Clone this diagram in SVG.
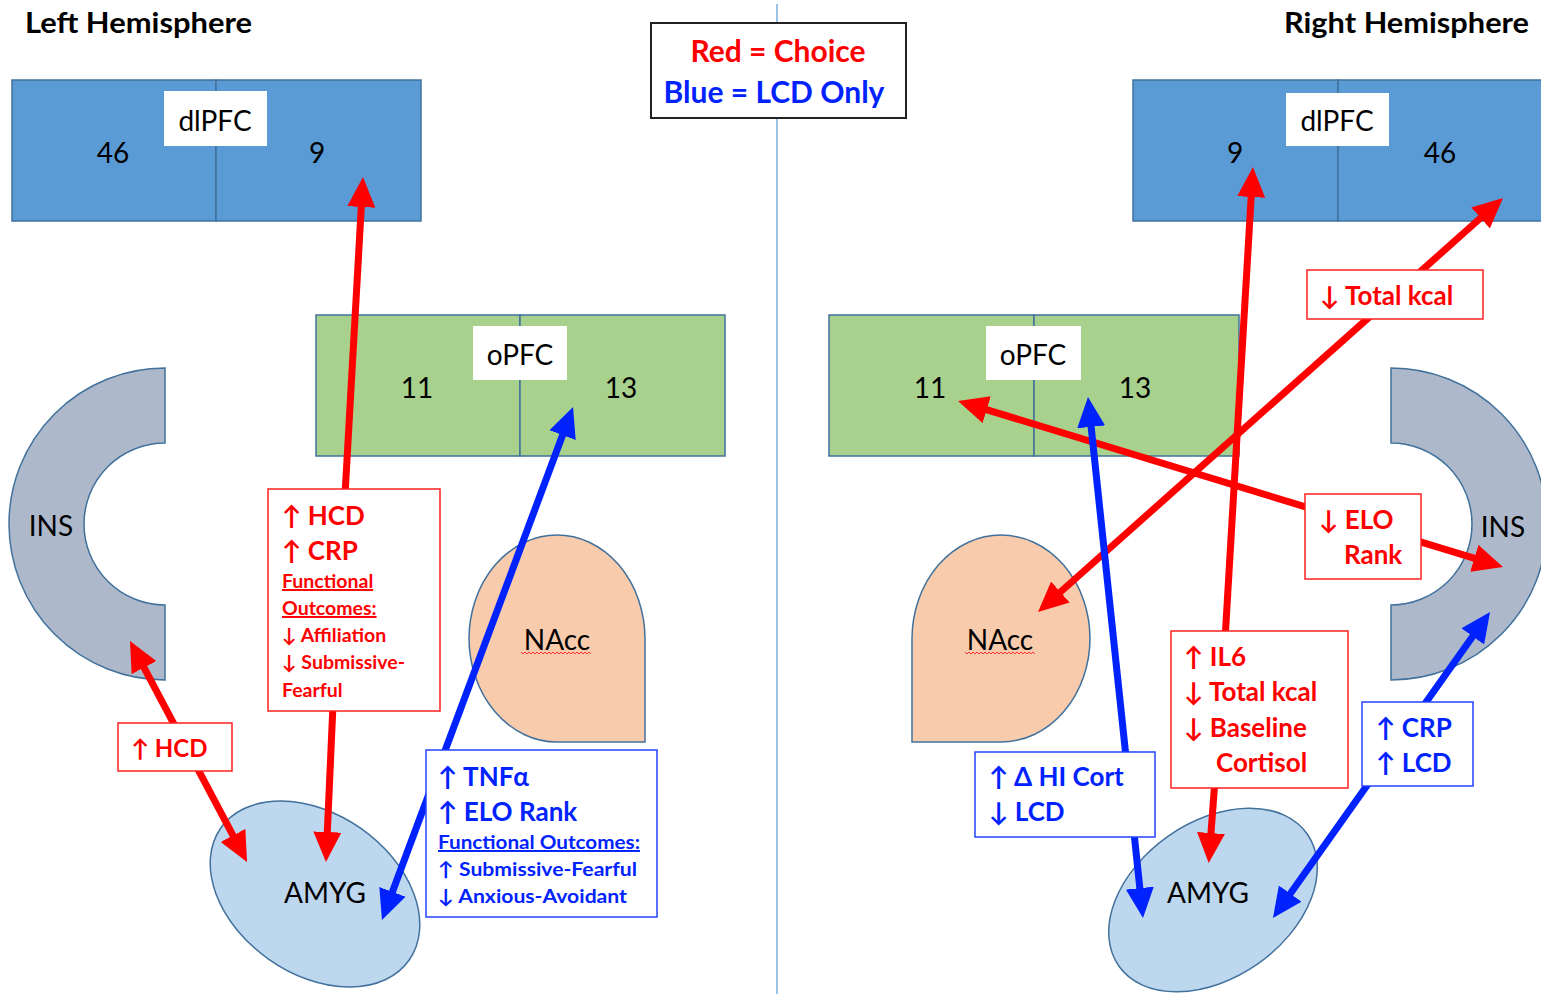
<svg xmlns="http://www.w3.org/2000/svg" width="1541" height="994" viewBox="0 0 1541 994">
  <style>
    .title { font-family: Lato, "Liberation Sans", sans-serif; font-weight: bold; font-size: 28px; fill: #000; }
    .region { font-family: Lato, "Liberation Sans", sans-serif; font-size: 28px; fill: #000; }
    .mid { text-anchor: middle; }
    .dl { fill: #5b9bd5; stroke: #41719c; stroke-width: 1.5; }
    .of { fill: #a9d18e; stroke: #41719c; stroke-width: 1.5; }
    .ins { fill: #adb9ca; stroke: #41719c; stroke-width: 1.5; }
    .nacc { fill: #f8cbad; stroke: #41719c; stroke-width: 1.5; }
    .amyg { fill: #bdd7ee; stroke: #41719c; stroke-width: 1.5; }
    .tag { fill: #fff; }
    .red { stroke: #ff0000; stroke-width: 7; fill: none; }
    .blue { stroke: #0022ff; stroke-width: 7; fill: none; }
    .rbox { fill: #fff; stroke: #ff2020; stroke-width: 1.5; }
    .bbox { fill: #fff; stroke: #2244ff; stroke-width: 1.5; }
    .rt { font-family: Lato, "Liberation Sans", sans-serif; font-weight: bold; fill: #ff0000; }
    .bt { font-family: Lato, "Liberation Sans", sans-serif; font-weight: bold; fill: #0022ff; }
    .big { font-size: 26px; }
    .small { font-size: 19.5px; }
    .u { text-decoration: underline; }
    .squig { fill: none; stroke: #ff3030; stroke-width: 1; }
  </style>
  <defs>
    <marker id="headRed" markerUnits="userSpaceOnUse" viewBox="0 0 30 28" markerWidth="30" markerHeight="28" refX="9" refY="14" orient="auto-start-reverse">
      <path d="M0,0 L30,14 L0,28 Z" fill="#ff0000"/>
    </marker>
    <marker id="headBlue" markerUnits="userSpaceOnUse" viewBox="0 0 30 28" markerWidth="30" markerHeight="28" refX="9" refY="14" orient="auto-start-reverse">
      <path d="M0,0 L30,14 L0,28 Z" fill="#0022ff"/>
    </marker>
  </defs>

  <rect width="1541" height="994" fill="#fff"/>

  <!-- midline between hemispheres -->
  <line x1="777" y1="4" x2="777" y2="994" stroke="#5b9bd5" stroke-width="1.2"/>

  <text class="title" x="25" y="33" textLength="227" lengthAdjust="spacingAndGlyphs">Left Hemisphere</text>
  <text class="title" x="1284" y="33" textLength="245" lengthAdjust="spacingAndGlyphs">Right Hemisphere</text>

  <!-- legend -->
  <g id="legend">
    <rect x="651" y="23" width="255" height="95" fill="#fff" stroke="#222" stroke-width="2"/>
    <text class="rt mid" x="778" y="62" font-size="30">Red = Choice</text>
    <text class="bt mid" x="774" y="103" font-size="30">Blue = LCD Only</text>
  </g>

  <!-- left hemisphere regions -->
  <g id="left-dlpfc">
    <rect class="dl" x="12" y="80" width="204" height="141"/>
    <rect class="dl" x="216" y="80" width="205" height="141"/>
    <rect class="tag" x="164" y="91" width="103" height="55"/>
    <text class="region mid" x="215" y="131">dlPFC</text>
    <text class="region mid" x="113" y="163">46</text>
    <text class="region mid" x="317" y="163">9</text>
  </g>
  <g id="left-opfc">
    <rect class="of" x="316" y="315" width="204" height="141"/>
    <rect class="of" x="520" y="315" width="205" height="141"/>
    <rect class="tag" x="473" y="326" width="94" height="54"/>
    <text class="region mid" x="520" y="365">oPFC</text>
    <text class="region mid" x="417" y="398">11</text>
    <text class="region mid" x="621" y="398">13</text>
  </g>
  <g id="left-ins">
    <path class="ins" d="M165,368 A156,156 0 0 0 165,680 L165,605 A81,81 0 0 1 165,443 Z"/>
    <text class="region mid" x="51" y="536">INS</text>
  </g>
  <g id="left-nacc">
    <path class="nacc" d="M645,638 L645,742 L557,742 A88,104 0 0 1 469,638 A88,104 0 0 1 557,535 A88,104 0 0 1 645,638 Z"/>
    <text class="region mid" x="557" y="650">NAcc</text>
    <path class="squig" d="M521,652 l2,2 l2,-2 l2,2 l2,-2 l2,2 l2,-2 l2,2 l2,-2 l2,2 l2,-2 l2,2 l2,-2 l2,2 l2,-2 l2,2 l2,-2 l2,2 l2,-2 l2,2 l2,-2 l2,2 l2,-2 l2,2 l2,-2 l2,2 l2,-2 l2,2 l2,-2 l2,2 l2,-2 l2,2 l2,-2 l2,2 l2,-2 l2,2"/>
  </g>
  <g id="left-amyg">
    <ellipse class="amyg" cx="315" cy="894" rx="115" ry="80" transform="rotate(35 315 894)"/>
    <text class="region mid" x="325" y="903">AMYG</text>
  </g>

  <!-- right hemisphere regions -->
  <g id="right-dlpfc">
    <rect class="dl" x="1133" y="80" width="205" height="141"/>
    <rect class="dl" x="1338" y="80" width="210" height="141"/>
    <rect class="tag" x="1286" y="93" width="103" height="53"/>
    <text class="region mid" x="1337" y="131">dlPFC</text>
    <text class="region mid" x="1235" y="163">9</text>
    <text class="region mid" x="1440" y="163">46</text>
  </g>
  <g id="right-opfc">
    <rect class="of" x="829" y="315" width="205" height="141"/>
    <rect class="of" x="1034" y="315" width="205" height="141"/>
    <rect class="tag" x="986" y="326" width="95" height="54"/>
    <text class="region mid" x="1033" y="365">oPFC</text>
    <text class="region mid" x="930" y="398">11</text>
    <text class="region mid" x="1135" y="398">13</text>
  </g>
  <g id="right-ins">
    <path class="ins" d="M1391,368 A156,156 0 0 1 1391,680 L1391,605 A81,81 0 0 0 1391,443 Z"/>
    <text class="region mid" x="1503" y="537">INS</text>
  </g>
  <g id="right-nacc">
    <path class="nacc" d="M912,638 L912,742 L1001,742 A89,104 0 0 0 1090,638 A89,104 0 0 0 1001,535 A89,104 0 0 0 912,638 Z"/>
    <text class="region mid" x="1000" y="650">NAcc</text>
    <path class="squig" d="M965,652 l2,2 l2,-2 l2,2 l2,-2 l2,2 l2,-2 l2,2 l2,-2 l2,2 l2,-2 l2,2 l2,-2 l2,2 l2,-2 l2,2 l2,-2 l2,2 l2,-2 l2,2 l2,-2 l2,2 l2,-2 l2,2 l2,-2 l2,2 l2,-2 l2,2 l2,-2 l2,2 l2,-2 l2,2 l2,-2 l2,2 l2,-2 l2,2"/>
  </g>
  <g id="right-amyg">
    <ellipse class="amyg" cx="1213" cy="900" rx="115" ry="78" transform="rotate(-35 1213 900)"/>
    <text class="region mid" x="1208" y="903">AMYG</text>
  </g>

  <!-- connectors -->
  <g id="connectors">
    <line class="red" x1="345" y1="495" x2="361.8" y2="198" marker-end="url(#headRed)"/>
    <line class="red" x1="333" y1="705" x2="326.9" y2="841" marker-end="url(#headRed)"/>
    <line class="red" x1="139.8" y1="659.6" x2="237.2" y2="843.4" marker-start="url(#headRed)" marker-end="url(#headRed)"/>
    <line class="blue" x1="389.3" y1="900.3" x2="565.7" y2="426.7" marker-start="url(#headBlue)" marker-end="url(#headBlue)"/>

    <line class="red" x1="1225" y1="640" x2="1251.7" y2="188" marker-end="url(#headRed)"/>
    <line class="red" x1="1215" y1="780" x2="1210.3" y2="842" marker-end="url(#headRed)"/>
    <line class="red" x1="1053.7" y1="598" x2="1487.3" y2="212" marker-start="url(#headRed)" marker-end="url(#headRed)"/>
    <line class="red" x1="978.1" y1="407.1" x2="1482.9" y2="560.9" marker-start="url(#headRed)" marker-end="url(#headRed)"/>
    <line class="blue" x1="1090.2" y1="417.9" x2="1140.8" y2="897.1" marker-start="url(#headBlue)" marker-end="url(#headBlue)"/>
    <line class="blue" x1="1285.1" y1="900.9" x2="1477.9" y2="629.1" marker-start="url(#headBlue)" marker-end="url(#headBlue)"/>
  </g>

  <!-- connector labels -->
  <g id="label-left-hcd-crp">
    <rect class="rbox" x="268" y="489" width="172" height="222"/>
    <text class="rt big" x="282" y="525">↑ HCD</text>
    <text class="rt big" x="282" y="560">↑ CRP</text>
    <text class="rt small u" x="282" y="588">Functional</text>
    <text class="rt small u" x="282" y="615">Outcomes:</text>
    <text class="rt small" x="282" y="642">↓ Affiliation</text>
    <text class="rt small" x="282" y="669">↓ Submissive-</text>
    <text class="rt small" x="282" y="697">Fearful</text>
  </g>
  <g id="label-left-hcd">
    <rect class="rbox" x="118" y="723" width="114" height="48"/>
    <text class="rt" font-size="24" x="131" y="757">↑ HCD</text>
  </g>
  <g id="label-left-tnf">
    <rect class="bbox" x="426" y="750" width="231" height="167"/>
    <text class="bt big" x="438" y="786">↑ TNFα</text>
    <text class="bt big" x="438" y="821">↑ ELO Rank</text>
    <text class="bt small u" x="438" y="849" textLength="202" lengthAdjust="spacingAndGlyphs">Functional Outcomes:</text>
    <text class="bt small" x="438" y="876" textLength="199" lengthAdjust="spacingAndGlyphs">↑ Submissive-Fearful</text>
    <text class="bt small" x="438" y="903" textLength="189" lengthAdjust="spacingAndGlyphs">↓ Anxious-Avoidant</text>
  </g>
  <g id="label-right-il6">
    <rect class="rbox" x="1171" y="631" width="177" height="157"/>
    <text class="rt big" x="1184" y="666">↑ IL6</text>
    <text class="rt big" x="1184" y="701">↓ Total kcal</text>
    <text class="rt big" x="1184" y="737">↓ Baseline</text>
    <text class="rt big" x="1216" y="772">Cortisol</text>
  </g>
  <g id="label-right-kcal">
    <rect class="rbox" x="1307" y="270" width="176" height="49"/>
    <text class="rt big" x="1320" y="305">↓ Total kcal</text>
  </g>
  <g id="label-right-elo">
    <rect class="rbox" x="1305" y="494" width="116" height="85"/>
    <text class="rt big" x="1319" y="529">↓ ELO</text>
    <text class="rt big" x="1344" y="564">Rank</text>
  </g>
  <g id="label-right-hicort">
    <rect class="bbox" x="975" y="752" width="180" height="85"/>
    <text class="bt big" x="989" y="786">↑ Δ HI Cort</text>
    <text class="bt big" x="989" y="821">↓ LCD</text>
  </g>
  <g id="label-right-crp">
    <rect class="bbox" x="1362" y="702" width="111" height="84"/>
    <text class="bt big" x="1376" y="737">↑ CRP</text>
    <text class="bt big" x="1376" y="772">↑ LCD</text>
  </g>
</svg>
